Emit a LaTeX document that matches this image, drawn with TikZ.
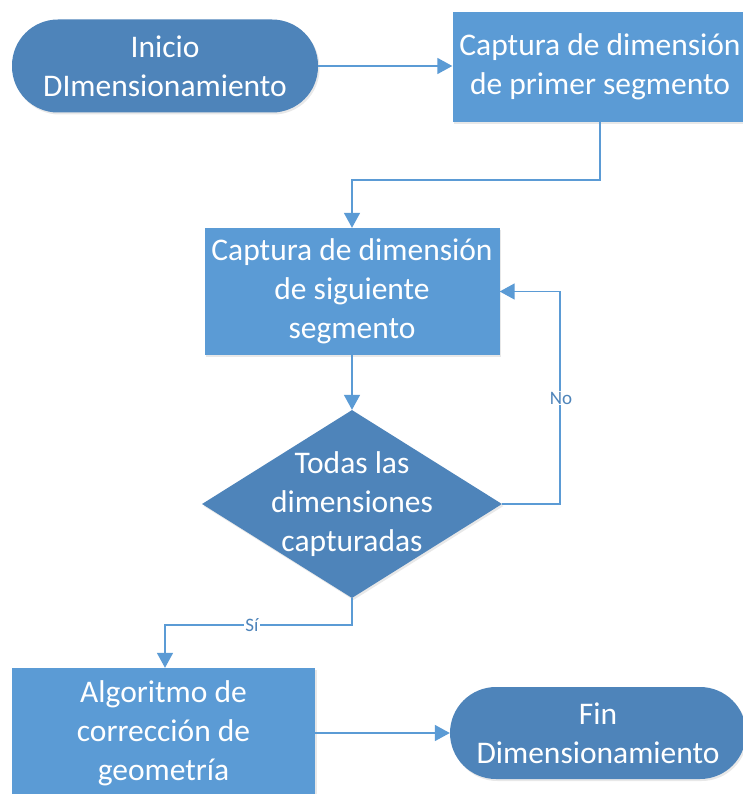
\documentclass[tikz,border=0pt]{standalone}
\usepackage{fontspec}
\setmainfont{Carlito}
\usetikzlibrary{shapes.geometric,arrows.meta,shadows}
\definecolor{darkfill}{HTML}{4E84BA}
\definecolor{lightfill}{HTML}{5B9BD5}
\definecolor{linec}{HTML}{5B9BD5}
\definecolor{labc}{HTML}{4E84BA}
\tikzset{
  base/.style={text=white, font=\fontsize{31.5}{39}\selectfont, align=center, inner sep=0pt,
    drop shadow={shadow xshift=1.5pt, shadow yshift=-2pt, opacity=0.18}},
  pill/.style={base, rectangle, rounded corners=46pt, fill=darkfill, minimum width=306pt, minimum height=93pt},
  procbox/.style={base, rectangle, fill=lightfill, minimum width=295pt, minimum height=127pt},
  decision/.style={diamond, fill=darkfill, inner sep=0pt, minimum width=300pt, minimum height=188pt,
    drop shadow={shadow xshift=1.5pt, shadow yshift=-2pt, opacity=0.18}},
  dectext/.style={text=white, font=\fontsize{31.5}{39}\selectfont, align=center, inner sep=0pt},
  conn/.style={draw=linec, line width=1.6pt, -{Triangle[length=15pt,width=16pt]}},
  edgelab/.style={text=labc, font=\fontsize{19}{21}\selectfont, inner sep=1pt, fill=white}
}
\begin{document}
\begin{tikzpicture}[x=1pt,y=-1pt]
\useasboundingbox (0,0) rectangle (743,794);
\fill[white] (0,0) rectangle (743,794);
\node[pill] (inicio) at (165,66) {Inicio\\DImensionamiento};
\node[procbox, minimum height=110pt] (cap1) at (600,67) {Captura de dimensión\\de primer segmento};
\node[procbox] (cap2) at (352,291.5) {Captura de dimensión\\de siguiente\\segmento};
\node[decision] (dec) at (352,504) {};
\node[dectext] (dectxt) at (352,504) {Todas las\\dimensiones\\capturadas};
\node[procbox, minimum width=303pt, minimum height=130pt] (alg) at (163.5,733) {Algoritmo de\\corrección de\\geometría};
\node[pill, minimum width=296pt, minimum height=92pt, rounded corners=46pt] (fin) at (598,733) {Fin\\Dimensionamiento};
\coordinate (c1) at (600,180);
\coordinate (c2) at (560,504);
\coordinate (c3) at (352,625);
\draw[conn] (inicio.east) -- (cap1.west |- inicio.east);
\draw[conn] (cap1.south -| c1) -- (c1) -| (cap2.north);
\draw[conn] (cap2.south) -- (dec.north);
\draw[conn] (dec.east) -- (c2) |- (cap2.east);
\node[edgelab] (nolab) at (561,398) {No};
\draw[conn] (dec.south) -- (c3) -| (alg.north -| 165,0);
\node[edgelab] (silab) at (252,625) {Sí};
\draw[conn] (alg.east) -- (fin.west);
\end{tikzpicture}
\end{document}
